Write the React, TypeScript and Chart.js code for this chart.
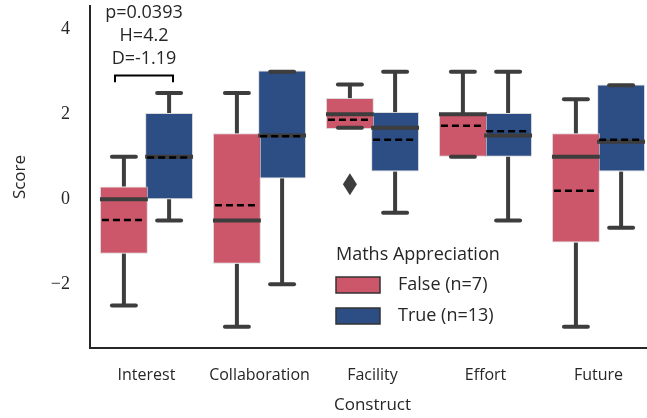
import React, { useEffect, useRef } from 'react';
import { Chart, registerables } from 'chart.js';
Chart.register(...registerables);

const categories = ['Interest', 'Collaboration', 'Facility', 'Effort', 'Future'];
const seriesLabels = ['False (n=7)', 'True (n=13)'];
const legendTitle = 'Maths Appreciation';
const yTicks = [-2, 0, 2, 4];

const falseQ1 = [-1.28, -1.52, 1.65, 1.0, -1.02];
const falseQ3 = [0.3, 1.55, 2.38, 2.03, 1.55];
const falseMedian = [0.0, -0.5, 2.0, 2.0, 1.0];
const falseMean = [-0.49, -0.14, 1.87, 1.73, 0.2];
const falseLow = [-2.5, -3.0, 1.68, 1.0, -3.0];
const falseHigh = [1.0, 2.5, 2.7, 3.0, 2.35];
const falseOutliers = [[], [], [0.35], [], []];

const trueQ1 = [0.0, 0.49, 0.65, 1.0, 0.65];
const trueQ3 = [2.03, 3.03, 2.05, 2.03, 2.7];
const trueMedian = [1.0, 1.5, 1.68, 1.5, 1.35];
const trueMean = [0.98, 1.48, 1.4, 1.6, 1.4];
const trueLow = [-0.5, -2.0, -0.32, -0.5, -0.67];
const trueHigh = [2.5, 3.0, 3.0, 3.0, 2.68];
const trueOutliers = [[], [], [], [], []];

const annotationLines = ['p=0.0393', 'H=4.2', 'D=-1.19'];
const bracketTop = 2.91;
const bracketBottom = 2.75;

const RED = 'rgb(204,86,106)';
const BLUE = 'rgb(45,77,133)';
const LINE = '#3d3d3d';
const TEXT = '#262626';
const SANS = '"Open Sans", "DejaVu Sans", sans-serif';

const stats = [
  { q1: falseQ1, q3: falseQ3, med: falseMedian, mean: falseMean, lo: falseLow, hi: falseHigh, out: falseOutliers },
  { q1: trueQ1, q3: trueQ3, med: trueMedian, mean: trueMean, lo: trueLow, hi: trueHigh, out: trueOutliers },
];

function line(ctx: CanvasRenderingContext2D, x1: number, y1: number, x2: number, y2: number) {
  ctx.beginPath();
  ctx.moveTo(x1, y1);
  ctx.lineTo(x2, y2);
  ctx.stroke();
}

const boxPlugin = {
  id: 'boxExtras',
  afterDatasetsDraw(chart: any) {
    const ctx: CanvasRenderingContext2D = chart.ctx;
    const y = chart.scales.y;
    ctx.save();
    stats.forEach((s, di) => {
      const meta = chart.getDatasetMeta(di);
      meta.data.forEach((bar: any, j: number) => {
        const { x, width } = bar.getProps(['x', 'width'], true);
        const left = x - width / 2;
        const right = x + width / 2;
        const yQ1 = y.getPixelForValue(s.q1[j]);
        const yQ3 = y.getPixelForValue(s.q3[j]);
        const yLo = y.getPixelForValue(s.lo[j]);
        const yHi = y.getPixelForValue(s.hi[j]);
        const yMed = y.getPixelForValue(s.med[j]);
        const yMean = y.getPixelForValue(s.mean[j]);
        ctx.setLineDash([]);
        ctx.strokeStyle = LINE;
        ctx.lineWidth = 4;
        ctx.lineCap = 'butt';
        if (s.hi[j] > s.q3[j]) line(ctx, x, yQ3, x, yHi);
        if (s.lo[j] < s.q1[j]) line(ctx, x, yQ1, x, yLo);
        const cw = width * 0.5;
        ctx.lineCap = 'round';
        line(ctx, x - cw / 2, yHi, x + cw / 2, yHi);
        line(ctx, x - cw / 2, yLo, x + cw / 2, yLo);
        ctx.lineCap = 'butt';
        line(ctx, left, yMed, right, yMed);
        ctx.strokeStyle = '#000';
        ctx.lineWidth = 2.5;
        ctx.setLineDash([7, 4]);
        line(ctx, left + 2, yMean, right - 2, yMean);
        ctx.setLineDash([]);
        ctx.fillStyle = LINE;
        s.out[j].forEach((v: number) => {
          const oy = y.getPixelForValue(v);
          ctx.beginPath();
          ctx.moveTo(x, oy - 11);
          ctx.lineTo(x + 7, oy);
          ctx.lineTo(x, oy + 11);
          ctx.lineTo(x - 7, oy);
          ctx.closePath();
          ctx.fill();
        });
      });
    });
    // significance annotation on first category
    const xs = chart.scales.x;
    const cx = xs.getPixelForValue(0) - 2.5;
    const yt = y.getPixelForValue(bracketTop);
    const yb = y.getPixelForValue(bracketBottom);
    ctx.strokeStyle = '#000';
    ctx.lineWidth = 2;
    ctx.lineCap = 'butt';
    ctx.beginPath();
    ctx.moveTo(cx - 29, yb);
    ctx.lineTo(cx - 29, yt);
    ctx.lineTo(cx + 29, yt);
    ctx.lineTo(cx + 29, yb);
    ctx.stroke();
    ctx.fillStyle = TEXT;
    ctx.font = `18px ${SANS}`;
    ctx.textAlign = 'center';
    ctx.textBaseline = 'middle';
    annotationLines.forEach((t, i) => {
      ctx.fillText(t, cx, yt - 17 - (annotationLines.length - 1 - i) * 23);
    });
    ctx.restore();
  },
  afterDraw(chart: any) {
    const ctx: CanvasRenderingContext2D = chart.ctx;
    const ds = chart.data.datasets;
    const lx = 336;
    ctx.save();
    ctx.fillStyle = TEXT;
    ctx.font = `18px ${SANS}`;
    ctx.textAlign = 'left';
    ctx.textBaseline = 'middle';
    ctx.fillText(legendTitle, lx, 255);
    ds.forEach((d: any, i: number) => {
      const cy = 285 + i * 31;
      ctx.fillStyle = d.backgroundColor;
      ctx.fillRect(lx, cy - 8, 44, 16);
      ctx.strokeStyle = '#333';
      ctx.lineWidth = 1.5;
      ctx.strokeRect(lx, cy - 8, 44, 16);
      ctx.fillStyle = TEXT;
      ctx.fillText(d.label, lx + 62, cy);
    });
    ctx.restore();
  },
};

export default function App() {
  const ref = useRef<HTMLCanvasElement>(null);
  useEffect(() => {
    if (!ref.current) return;
    const chart = new Chart(ref.current, {
      type: 'bar',
      data: {
        labels: categories,
        datasets: [
          {
            label: seriesLabels[0],
            data: falseQ1.map((v, i) => [v, falseQ3[i]]),
            backgroundColor: RED,
            borderColor: 'rgba(215,215,215,0.9)',
            borderWidth: 1,
            borderSkipped: false,
            categoryPercentage: 0.8,
            barPercentage: 1.06,
          },
          {
            label: seriesLabels[1],
            data: trueQ1.map((v, i) => [v, trueQ3[i]]),
            backgroundColor: BLUE,
            borderColor: 'rgba(215,215,215,0.9)',
            borderWidth: 1,
            borderSkipped: false,
            categoryPercentage: 0.8,
            barPercentage: 1.06,
          },
        ],
      } as any,
      options: {
        responsive: false,
        animation: false,
        devicePixelRatio: 1,
        layout: { padding: { top: 6, right: 5, bottom: 0, left: 0 } },
        plugins: { legend: { display: false }, tooltip: { enabled: false } },
        scales: {
          x: {
            grid: { display: false, drawTicks: false },
            border: { display: true, color: '#262626', width: 2 },
            ticks: { color: TEXT, font: { family: SANS, size: 16 }, padding: 18, maxRotation: 0 },
            title: { display: true, text: 'Construct', color: TEXT, font: { family: SANS, size: 17 }, padding: { top: 0, bottom: 3 } },
            afterFit: (s: any) => { s.height = 70; s.paddingLeft = 0; s.paddingRight = 0; },
          },
          y: {
            min: -3.5,
            max: 4.547,
            grid: { display: false, drawTicks: false },
            border: { display: true, color: '#262626', width: 2 },
            ticks: {
              color: TEXT,
              font: { family: '"Liberation Serif", serif', size: 18 },
              padding: 20,
              callback: (v: any) => (v < 0 ? '\u2212' + Math.abs(v) : String(v)),
            },
            afterBuildTicks: (s: any) => { s.ticks = yTicks.map((v) => ({ value: v })); },
            title: { display: true, text: 'Score', color: TEXT, font: { family: SANS, size: 17 }, padding: { top: 10, bottom: 0 } },
            afterFit: (s: any) => { s.width = 90; s.paddingTop = 0; s.paddingBottom = 0; },
          },
        },
      } as any,
      plugins: [boxPlugin],
    });
    return () => chart.destroy();
  }, []);
  return (
    <div style={{ position: 'fixed', left: 0, top: 0, width: 647, height: 418, overflow: 'hidden', background: '#fff' }}>
      <canvas ref={ref} width={660} height={418} style={{ width: 660, height: 418, display: 'block' }} />
    </div>
  );
}
